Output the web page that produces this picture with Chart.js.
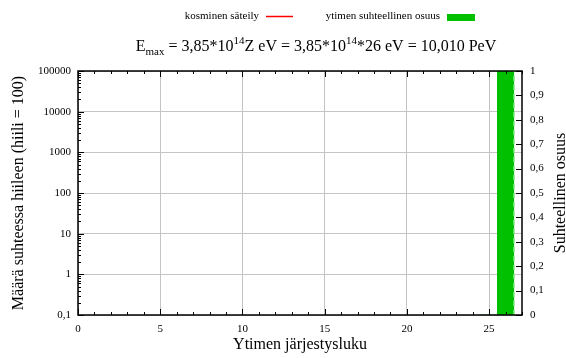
<!DOCTYPE html>
<html>
<head>
<meta charset="utf-8">
<script src="https://cdn.jsdelivr.net/npm/chart.js@4.4.1/dist/chart.umd.min.js"></script>
<style>
  html, body { margin: 0; padding: 0; background: #fff; }
</style>
</head>
<body>
<canvas id="kaavio" width="566" height="358"></canvas>
<script>
// ydin ja energia
const Z = 26;
const energiaKerroin = 3.85; // *10^14 eV per varausluku

// pylväät: järjestysluku ja ytimen suhteellinen osuus
const jarjestysluvut = [25, 26];
const osuudet = [0, 1];

// kosminen säteily (ei pisteitä näkyvällä alueella)
const kosminenSateily = [];

// akselien merkit
const xMerkit = [0, 5, 10, 15, 20, 25];
const yMerkit = [0.1, 1, 10, 100, 1000, 10000, 100000];
const y2Merkit = [0, 0.1, 0.2, 0.3, 0.4, 0.5, 0.6, 0.7, 0.8, 0.9, 1];

const FONTTI = '"Liberation Serif", "Times New Roman", serif';
const VIHREA = '#00c000';
const PUNAINEN = '#ff0000';

const pilkuksi = v => String(v).replace('.', ',');

// pylvään oikea reuna katkoviivana
const reunaViiva = [];
jarjestysluvut.forEach((z, i) => {
  if (osuudet[i] > 0) {
    reunaViiva.push({ x: z + 0.5, y: 0 }, { x: z + 0.5, y: osuudet[i] });
  }
});

const PeV = (energiaKerroin * 1e14 * Z / 1e15).toFixed(3).replace('.', ',');

// otsikko, selite, kehys ja sisäänpäin osoittavat merkit
const gnuplotTyyli = {
  id: 'gnuplotTyyli',
  afterDatasetsDraw(chart) {
    const { ctx, chartArea: a, scales } = chart;
    const { x, y, y2 } = scales;
    ctx.save();

    // kehys
    ctx.strokeStyle = '#000';
    ctx.lineWidth = 1.5;
    ctx.strokeRect(a.left, a.top, a.right - a.left, a.bottom - a.top);

    ctx.lineWidth = 1;
    ctx.beginPath();
    // x: pää- ja välimerkit ala- ja yläreunaan
    for (let v = x.min; v <= x.max; v++) {
      const px = Math.round(x.getPixelForValue(v)) + 0.5;
      const p = xMerkit.includes(v) ? 6 : 3;
      ctx.moveTo(px, a.bottom); ctx.lineTo(px, a.bottom - p);
      ctx.moveTo(px, a.top); ctx.lineTo(px, a.top + p);
    }
    // y (log): vasempaan reunaan
    yMerkit.forEach((d, i) => {
      const py = Math.round(y.getPixelForValue(d)) + 0.5;
      ctx.moveTo(a.left, py); ctx.lineTo(a.left + 6, py);
      if (i < yMerkit.length - 1) {
        for (let k = 2; k <= 9; k++) {
          const pm = Math.round(y.getPixelForValue(d * k)) + 0.5;
          ctx.moveTo(a.left, pm); ctx.lineTo(a.left + 3, pm);
        }
      }
    });
    // y2: oikeaan reunaan
    y2Merkit.forEach(v => {
      const py = Math.round(y2.getPixelForValue(v)) + 0.5;
      ctx.moveTo(a.right, py); ctx.lineTo(a.right - 6, py);
    });
    ctx.stroke();

    // oikean akselin nimi alhaalta ylös
    ctx.fillStyle = '#000';
    ctx.font = '16px ' + FONTTI;
    ctx.textAlign = 'center';
    ctx.textBaseline = 'alphabetic';
    ctx.translate(565, (a.top + a.bottom) / 2);
    ctx.rotate(-Math.PI / 2);
    ctx.fillText('Suhteellinen osuus', 0, 0);
    ctx.restore();

    // selite
    ctx.save();
    ctx.font = '11px ' + FONTTI;
    ctx.fillStyle = '#000';
    ctx.textBaseline = 'alphabetic';
    ctx.textAlign = 'right';
    const ds = chart.data.datasets;
    ctx.fillText(ds[1].label, 259, 19);
    ctx.strokeStyle = ds[1].borderColor;
    ctx.lineWidth = 1.5;
    ctx.beginPath(); ctx.moveTo(266, 16.5); ctx.lineTo(293, 16.5); ctx.stroke();
    ctx.fillText(ds[0].label, 440, 19);
    ctx.fillStyle = ds[0].backgroundColor;
    ctx.fillRect(447, 14, 28, 7);

    // otsikko ala- ja yläindekseineen
    const osat = [
      { t: 'E', s: 16, dy: 0 },
      { t: 'max', s: 11, dy: 4 },
      { t: ' = ' + pilkuksi(energiaKerroin) + '*10', s: 16, dy: 0 },
      { t: '14', s: 11, dy: -7 },
      { t: 'Z eV = ' + pilkuksi(energiaKerroin) + '*10', s: 16, dy: 0 },
      { t: '14', s: 11, dy: -7 },
      { t: '*' + Z + ' eV = ' + PeV + ' PeV', s: 16, dy: 0 }
    ];
    ctx.fillStyle = '#000';
    ctx.textAlign = 'left';
    let leveys = 0;
    osat.forEach(o => { ctx.font = o.s + 'px ' + FONTTI; o.w = ctx.measureText(o.t).width; leveys += o.w; });
    let px = 316 - leveys / 2;
    osat.forEach(o => {
      ctx.font = o.s + 'px ' + FONTTI;
      ctx.fillText(o.t, px, 51 + o.dy);
      px += o.w;
    });
    ctx.restore();
  }
};

new Chart(document.getElementById('kaavio'), {
  type: 'bar',
  data: {
    datasets: [
      {
        type: 'bar',
        label: 'ytimen suhteellinen osuus',
        data: jarjestysluvut.map((z, i) => ({ x: z, y: osuudet[i] })),
        backgroundColor: VIHREA,
        borderWidth: 0,
        categoryPercentage: 1,
        barPercentage: 1,
        yAxisID: 'y2',
        order: 3
      },
      {
        type: 'line',
        label: 'kosminen säteily',
        data: kosminenSateily,
        borderColor: PUNAINEN,
        borderWidth: 1.5,
        pointRadius: 0,
        yAxisID: 'y',
        order: 1
      },
      {
        type: 'line',
        label: 'reuna',
        data: reunaViiva,
        borderColor: '#5ee65e',
        borderWidth: 1.5,
        borderDash: [5, 4],
        pointRadius: 0,
        yAxisID: 'y2',
        order: 2
      }
    ]
  },
  options: {
    responsive: false,
    animation: false,
    devicePixelRatio: 1,
    layout: { padding: { top: 71, left: 0, right: 0, bottom: 0 } },
    plugins: { legend: { display: false }, tooltip: { enabled: false } },
    scales: {
      x: {
        type: 'linear',
        min: 0,
        max: 27,
        offset: false,
        afterBuildTicks: s => { s.ticks = xMerkit.map(v => ({ value: v })); },
        afterFit: s => { s.height = 43; },
        grid: { color: '#c4c4c4', drawTicks: false, offset: false },
        border: { display: false },
        ticks: { color: '#000', font: { family: FONTTI, size: 11 }, padding: 8, maxRotation: 0 },
        title: { display: true, text: 'Ytimen järjestysluku', color: '#000', font: { family: FONTTI, size: 16 }, padding: { top: 0, bottom: 4 } }
      },
      y: {
        type: 'logarithmic',
        position: 'left',
        min: 0.1,
        max: 100000,
        afterBuildTicks: s => { s.ticks = yMerkit.map(v => ({ value: v })); },
        afterFit: s => { s.width = 78; },
        grid: { color: '#c4c4c4', drawTicks: false },
        border: { display: false },
        ticks: { color: '#000', font: { family: FONTTI, size: 11 }, padding: 7, callback: v => pilkuksi(v) },
        title: { display: true, text: 'Määrä suhteessa hiileen (hiili = 100)', color: '#000', font: { family: FONTTI, size: 16 }, padding: { top: 9, bottom: 0 } }
      },
      y2: {
        type: 'linear',
        position: 'right',
        min: 0,
        max: 1,
        afterBuildTicks: s => { s.ticks = y2Merkit.map(v => ({ value: v })); },
        afterFit: s => { s.width = 44; },
        grid: { display: false, drawTicks: false },
        border: { display: false },
        ticks: { color: '#000', font: { family: FONTTI, size: 11 }, padding: 8, callback: v => pilkuksi(v) }
      }
    }
  },
  plugins: [gnuplotTyyli]
});
</script>
</body>
</html>
